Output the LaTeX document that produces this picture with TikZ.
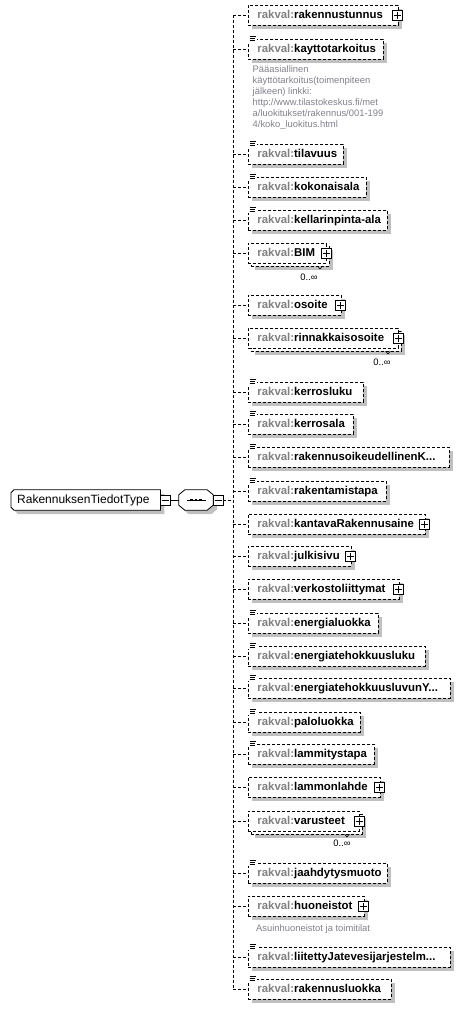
\documentclass[tikz,border=0pt]{standalone}
\usepackage{fontspec}
\usetikzlibrary{shadows,calc}
\newfontfamily\lab{Liberation Sans}
\definecolor{shad}{RGB}{192,192,192}
\definecolor{pfx}{RGB}{128,128,128}
\definecolor{anncol}{RGB}{128,128,140}
\pgfdeclarelayer{bg}
\pgfsetlayers{bg,main}
\tikzset{
  dsh/.style={dash pattern=on 3pt off 2pt},
  ebox/.style={draw, dsh, line width=0.8pt, fill=white, anchor=west, minimum height=20pt,
    inner xsep=0pt, inner ysep=0pt, align=left, text height=8.5pt, text depth=2.5pt,
    font=\lab\bfseries\fontsize{11.4}{13}\selectfont},
  shd/.style={general shadow={fill=shad, shadow xshift=4pt, shadow yshift=-4pt}},
  conn/.style={dsh, line width=0.8pt},
  icon/.style={draw, solid, line width=0.8pt, fill=white, minimum size=10pt, inner sep=0pt},
  plusicon/.style={icon, path picture={\draw[line width=0.8pt]
      ([xshift=-3.5pt]path picture bounding box.center) -- ([xshift=3.5pt]path picture bounding box.center)
      ([yshift=-3.5pt]path picture bounding box.center) -- ([yshift=3.5pt]path picture bounding box.center);}},
  minusicon/.style={icon, path picture={\draw[line width=0.8pt]
      ([xshift=-3.5pt]path picture bounding box.center) -- ([xshift=3.5pt]path picture bounding box.center);}},
  occ/.style={font=\lab\fontsize{9.4}{11}\selectfont, inner sep=0pt},
  ann/.style={font=\lab\fontsize{9.4}{11}\selectfont, text=anncol, inner sep=0pt, align=left},
  typebox/.style={anchor=west, minimum height=20pt, inner xsep=0pt, inner ysep=0pt, align=left,
    text height=8.5pt, text depth=2.5pt, font=\lab\fontsize{12}{14}\selectfont},
  seqbox/.style={minimum width=34pt, minimum height=20pt, inner sep=0pt},
}
\newcommand\simpicon[1]{%
  \fill[white] ($(#1.north west)+(-1,-3)$) rectangle ($(#1.north west)+(8.5,3)$);
  \draw[line width=0.55pt] ($(#1.north west)+(1.5,-2)$) -- ++(6,0)
     ($(#1.north west)+(1.5,0)$) -- ++(5,0) ($(#1.north west)+(1.5,2)$) -- ++(5,0);}
\newcommand\elS[4]{%
  \pgfmathsetmacro\bw{#3-248}
  \node[ebox, shd, text width=\bw pt] (#1) at (248,#2) {\hspace*{9pt}\mbox{\textcolor{pfx}{rakval:}#4}};
  \simpicon{#1}
  \coordinate (j#1) at (233,#2);
  \draw[conn] (j#1) -- (#1.west);}
\newcommand\elP[4]{%
  \pgfmathsetmacro\bw{#3-248}
  \node[ebox, shd, text width=\bw pt] (#1) at (248,#2) {\hspace*{9pt}\mbox{\textcolor{pfx}{rakval:}#4}};
  \node[plusicon] (#1p) at ($(#1.east)+(-1,0)$) {};
  \coordinate (j#1) at (233,#2);
  \draw[conn] (j#1) -- (#1.west);}
\newcommand\elM[7]{%
  \pgfmathsetmacro\bw{#3-251}
  \node[ebox, shd, text width=\bw pt] (#1b) at (251,#2+3) {};
  \node[ebox, text width=\bw pt] (#1) at (248,#2) {\hspace*{9pt}\mbox{\textcolor{pfx}{rakval:}#4}};
  \node[plusicon] (#1p) at ($(#1.east)+(-0.5,0)$) {};
  \draw[line width=0.6pt] (#5-2.5,#2+13) -- (#5,#2+16) -- (#5+2.5,#2+13);
  \node[occ] (#1o) at (#6,#7) {0..∞};
  \coordinate (j#1) at (233,#2);
  \draw[conn] (j#1) -- (#1.west);}
\newcommand\chamf[3]{($(#1.north west)+(3+#2,#3)$) -- ($(#1.north east)+(#2,#3)$) -- ($(#1.south east)+(#2,#3)$) -- ($(#1.south west)+(3+#2,#3)$) -- ($(#1.south west)+(#2,-3+#3)$) -- ($(#1.north west)+(#2,3+#3)$) -- cycle}
\newcommand\octa[3]{($(#1.north west)+(6+#2,#3)$) -- ($(#1.north east)+(-6+#2,#3)$) -- ($(#1.north east)+(#2,5+#3)$) -- ($(#1.south east)+(#2,-5+#3)$) -- ($(#1.south east)+(-6+#2,#3)$) -- ($(#1.south west)+(6+#2,#3)$) -- ($(#1.south west)+(#2,-5+#3)$) -- ($(#1.north west)+(#2,5+#3)$) -- cycle}
\begin{document}
\begin{tikzpicture}[x=1pt,y=-1pt]
\useasboundingbox (0,0) rectangle (464,1009);
% type and sequence
\node[typebox, text width=149pt] (type) at (11,500) {\hspace*{6pt}RakennuksenTiedotType};
\node[minusicon] (typem) at (165,500) {};
\node[seqbox] (seq) at (196,500) {};
\node[minusicon] (seqm) at (218,500) {};
\coordinate (vj) at (233,500);
\begin{pgfonlayer}{bg}
  \fill[shad] \chamf{type}{4}{4};
  \draw[fill=white, line width=0.8pt] \chamf{type}{0}{0};
  \fill[shad] \octa{seq}{4}{4};
  \draw[fill=white, line width=0.8pt] \octa{seq}{0}{0};
\end{pgfonlayer}
\draw[line width=0.8pt] ($(seq.center)+(-9.5,0)$) -- ($(seq.center)+(9.5,0)$);
\foreach \dx in {-4.5,0,4.5}
  \fill ($(seq.center)+(\dx-1.3,-1.3)$) rectangle ++(2.6,2.6);
\draw[line width=0.8pt] (typem.east) -- (seq.west);
\draw[conn] (seqm.east) -- (vj);
% elements
\elP{e1}{15}{398}{rakennustunnus}
\elS{e2}{49}{383}{kayttotarkoitus}
\node[ann, anchor=north west] (a2) at (252.5,65) {Pääasiallinen\\käyttötarkoitus(toimenpiteen\\jälkeen) linkki:\\http://www.tilastokeskus.fi/met\\a/luokitukset/rakennus/001-199\\4/koko\_luokitus.html};
\elS{e3}{154}{343}{tilavuus}
\elS{e4}{187}{366}{kokonaisala}
\elS{e5}{220}{387}{kellarinpinta-ala}
\elM{e6}{253}{329}{BIM}{320}{309}{277}
\elP{e7}{305}{341}{osoite}
\elM{e8}{338}{401}{rinnakkaisosoite}{388}{382}{362}
\elS{e9}{392}{363}{kerrosluku}
\elS{e10}{424}{353}{kerrosala}
\elS{e11}{457}{449}{rakennusoikeudellinenK...}
\elS{e12}{491}{386}{rakentamistapa}
\elP{e13}{524}{425}{kantavaRakennusaine}
\elP{e14}{556}{351}{julkisivu}
\elP{e15}{589}{399}{verkostoliittymat}
\elS{e16}{623}{378}{energialuokka}
\elS{e17}{656}{425}{energiatehokkuusluku}
\elS{e18}{688}{450}{energiatehokkuusluvunY...}
\elS{e19}{722}{360}{paloluokka}
\elS{e20}{754}{374}{lammitystapa}
\elP{e21}{787}{380}{lammonlahde}
\elM{e22}{821}{362}{varusteet}{347}{342}{843}
\elS{e23}{873}{387}{jaahdytysmuoto}
\elP{e24}{906}{364}{huoneistot}
\node[ann, anchor=west] (a24) at (256,929) {Asuinhuoneistot ja toimitilat};
\elS{e25}{957}{450}{liitettyJatevesijarjestelm...}
\elS{e26}{989}{391}{rakennusluokka}
\draw[conn] (je1) -- (je26);
\end{tikzpicture}
\end{document}
